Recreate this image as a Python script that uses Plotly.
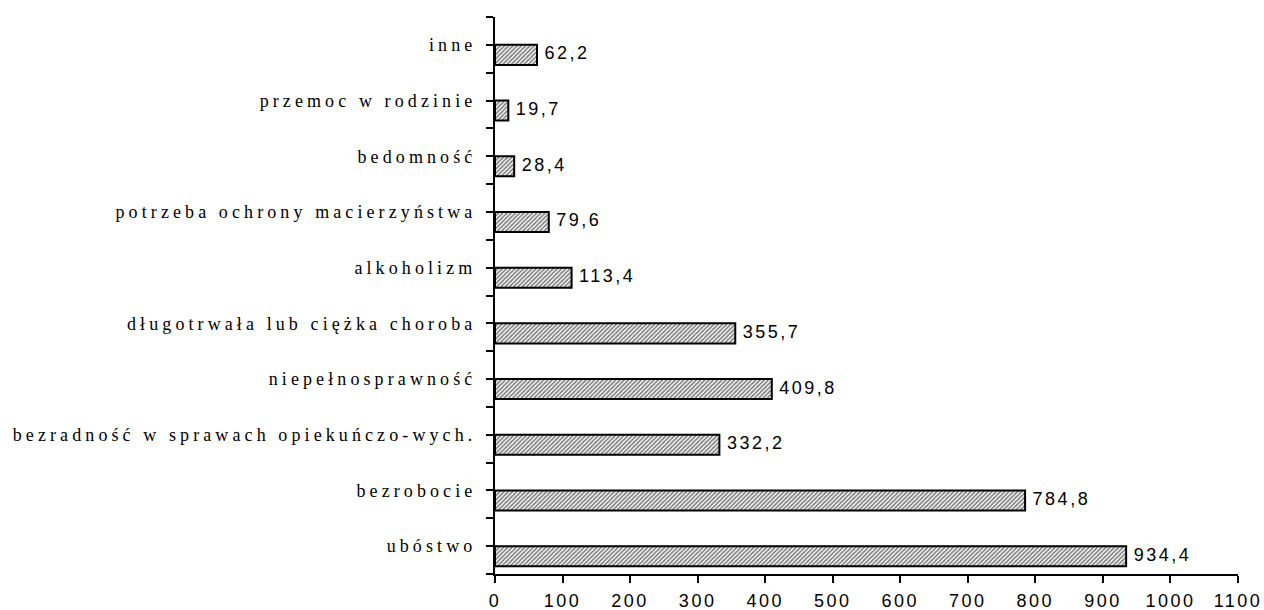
import numpy as np
import plotly.graph_objects as go

# powody przyznania pomocy (od dołu do góry)
categories = [
    "ubóstwo",
    "bezrobocie",
    "bezradność w sprawach opiekuńczo-wych.",
    "niepełnosprawność",
    "długotrwała lub ciężka choroba",
    "alkoholizm",
    "potrzeba ochrony macierzyństwa",
    "bedomność",
    "przemoc w rodzinie",
    "inne",
]
values = [934.4, 784.8, 332.2, 409.8, 355.7, 113.4, 79.6, 28.4, 19.7, 62.2]
x_ticks = list(range(0, 1101, 100))

pos = np.arange(len(categories))
bar_w = 0.36

fig = go.Figure()

fig.add_trace(go.Bar(
    x=values, y=pos, orientation="h",
    width=bar_w, offset=-bar_w,
    marker=dict(
        color="white",
        line=dict(color="black", width=2),
        pattern=dict(shape="/", fgcolor="black", bgcolor="white", size=3, solidity=0.55),
    ),
    showlegend=False, hoverinfo="skip",
))

# etykiety wartości obok słupków
fig.add_trace(go.Scatter(
    x=values, y=pos - bar_w / 2, mode="text",
    texttemplate="\u00a0%{x:.1f}", textposition="middle right",
    textfont=dict(family="Liberation Sans, Arial", size=18, color="black"),
    showlegend=False, hoverinfo="skip", cliponaxis=False,
))

fig.update_layout(
    width=1264, height=610,
    margin=dict(l=495, r=26, t=17, b=36),
    paper_bgcolor="white", plot_bgcolor="white",
    separators=", ",
    showlegend=False,
)

fig.update_xaxes(
    range=[0, 1100], tickvals=x_ticks, automargin=False,
    showgrid=False, zeroline=False,
    showline=True, linecolor="black", linewidth=2,
    ticks="outside", ticklen=7, tickwidth=2, tickcolor="black",
    tickfont=dict(family="Liberation Sans, Arial", size=18, color="black"),
    ticklabelstandoff=2,
)

fig.update_yaxes(
    range=[-0.5, len(categories) - 0.5], automargin=False,
    tickmode="array", tickvals=pos, ticktext=categories,
    showgrid=False, zeroline=False,
    showline=True, linecolor="black", linewidth=2,
    ticks="outside", ticklen=7, tickwidth=2, tickcolor="black",
    minor=dict(tickmode="array", tickvals=np.arange(len(categories) + 1) - 0.5,
               ticks="outside", ticklen=7, tickwidth=2, tickcolor="black", showgrid=False),
    tickfont=dict(family="Liberation Serif, Times New Roman", size=18, color="black"),
    ticklabelstandoff=6,
)

# rozstrzelone litery jak w oryginale, strona bez marginesu
css = ("body{margin:0;overflow:hidden}"
       ".ytick text{letter-spacing:4.1px}.xtick text{letter-spacing:2.5px}"
       ".textpoint text{letter-spacing:2.5px}")
post = "var s=document.createElement('style');s.innerHTML='" + css + "';document.head.appendChild(s);"

fig.write_html("out.html", post_script=post, config={"displayModeBar": False})
